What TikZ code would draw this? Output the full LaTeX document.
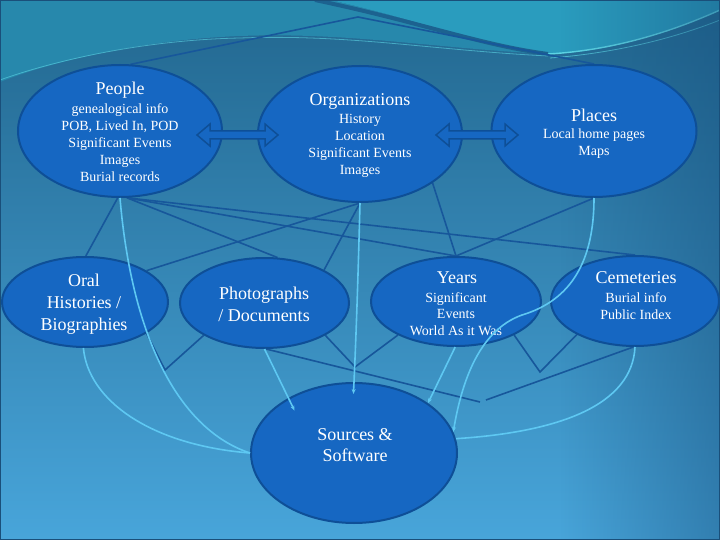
\documentclass[tikz,border=0pt]{standalone}
\usepackage{fontspec}
\setmainfont{Liberation Serif}
\usetikzlibrary{arrows.meta,fadings,shapes.geometric}
\definecolor{ellfill}{HTML}{1667C2}
\definecolor{ellline}{HTML}{0E4F97}
\definecolor{conn}{HTML}{17579B}
\definecolor{cy}{HTML}{5EC8F2}
\definecolor{bgtop}{HTML}{22678F}
\definecolor{bgmid}{HTML}{3382B2}
\definecolor{bgbot}{HTML}{48A5DA}
\definecolor{tealL}{HTML}{2788AC}
\definecolor{tealR}{HTML}{2A9CBE}
\definecolor{streak}{HTML}{1C6290}
\definecolor{bright}{HTML}{5CD4E4}
\definecolor{darkR}{HTML}{17507E}
\definecolor{frame}{HTML}{1A4F7A}
\tikzfading[name=fadeR, left color=transparent!100, right color=transparent!55]
\pgfdeclarelayer{back}
\pgfdeclarelayer{lines}
\pgfdeclarelayer{front}
\pgfsetlayers{back,lines,main,front}
\begin{document}
\begin{tikzpicture}[x=1pt,y=-1pt,
  ell/.style={ellipse, draw=ellline, fill=ellfill, line width=2pt, inner sep=0pt},
  ttl/.style={text=white, font=\fontsize{18}{22}\selectfont, align=center, inner sep=0pt},
  sub/.style={text=white, font=\fontsize{14}{17}\selectfont, align=center, inner sep=0pt},
  darkline/.style={draw=conn, line width=1.6pt},
  cyline/.style={draw=cy, line width=1.6pt},
  cyarrow/.style={cyline, -{Stealth[length=5pt,width=4pt]}},
  blockarrow/.style={fill=ellfill, draw=ellline, line width=1.5pt, line join=miter}]
\useasboundingbox (0,0) rectangle (720,540);
% background
\begin{pgfonlayer}{back}
\shade[top color=bgtop, middle color=bgmid, bottom color=bgbot] (0,0) rectangle (720,540);
\fill[tealL] (0,0) -- (330,0) .. controls (420,20) and (480,45) .. (548,54)
  .. controls (430,48) and (350,32) .. (240,36) .. controls (140,40) and (50,62) .. (0,82) -- cycle;
\fill[tealR] (330,0) -- (720,0) -- (720,10) .. controls (660,35) and (610,52) .. (548,54)
  .. controls (480,45) and (420,20) .. (330,0) -- cycle;
\draw[streak, line width=4pt] (315,0) .. controls (420,22) and (480,45) .. (548,54);
\draw[bright, line width=1.4pt] (548,54) .. controls (620,50) and (680,28) .. (720,10);
\draw[bright, line width=0.8pt, opacity=0.7] (550,58) .. controls (630,52) and (690,32) .. (720,20);
\draw[bright, line width=0.8pt, opacity=0.6] (0,80) .. controls (50,62) and (140,40) .. (240,38)
  .. controls (350,34) and (430,50) .. (548,56);
\fill[darkR, path fading=fadeR] (560,0) rectangle (720,540);
\draw[frame, line width=2pt] (0,0) rectangle (720,540);
\end{pgfonlayer}
% ellipses
\node[ell, minimum width=204pt, minimum height=132pt] (people) at (120,131) {};
\node[ell, minimum width=204pt, minimum height=136pt] (org) at (360,134) {};
\node[ell, minimum width=205pt, minimum height=132pt] (places) at (594,131) {};
\node[ell, minimum width=166pt, minimum height=90pt] (oral) at (85,302) {};
\node[ell, minimum width=169pt, minimum height=90pt] (photos) at (264.5,303) {};
\node[ell, minimum width=170pt, minimum height=89pt] (years) at (456,301.5) {};
\node[ell, minimum width=168pt, minimum height=90pt] (cem) at (635,301) {};
\node[ell, minimum width=206pt, minimum height=140pt] (src) at (354,453) {};
% texts
\node[ttl] (peopleT) at (120,90) {People};
\node[sub] (peopleS) at (120,143) {genealogical info\\POB, Lived In, POD\\Significant Events\\Images\\Burial records};
\node[ttl] (orgT) at (360,101) {Organizations};
\node[sub] (orgS) at (360,146) {History\\Location\\Significant Events\\Images};
\node[ttl] (placesT) at (594,115) {Places};
\node[sub] (placesS) at (594,144) {Local home pages\\Maps};
\node[ttl] (oralT) at (84,304) {Oral\\Histories /\\Biographies};
\node[ttl] (photosT) at (264,304) {Photographs\\/ Documents};
\node[ttl] (yearsT) at (457,278) {Years};
\node[sub, font=\fontsize{14}{16.5}\selectfont] (yearsS) at (456,314) {Significant\\Events\\World As it Was};
\node[ttl] (cemT) at (636,278) {Cemeteries};
\node[sub] (cemS) at (636,306) {Burial info\\Public Index};
\node[ttl, font=\fontsize{18}{21}\selectfont] (srcT) at (355,445) {Sources \&\\Software};
% coordinates
\coordinate (t1) at (358,17);
\coordinate (v1) at (165,370);
\coordinate (v2) at (355,367);
\coordinate (v3a) at (480,402);
\coordinate (v3b) at (486,400);
\coordinate (v4) at (540,372);
\coordinate (w1) at (522,315);
% dark connectors
\begin{pgfonlayer}{lines}
\draw[darkline] (people.81) -- (t1) -- (places.90);
\draw[darkline] (people.-92) -- (oral.89);
\draw[darkline] (people.-84) -- (photos.74);
\draw[darkline] (people.-84) -- (years.90);
\draw[darkline] (people.-84) -- (cem.90);
\draw[darkline] (oral.27) -- (org.-90);
\draw[darkline] (photos.29) -- (org.-90);
\draw[darkline] (org.-34) -- (years.90);
\draw[darkline] (places.-90) -- (years.90);
\draw[darkline] (oral.-27) -- (v1) -- (photos.-152);
\draw[darkline] (photos.-28) -- (v2) -- (years.-150);
\draw[darkline] (photos.-88) -- (v3a);
\draw[darkline] (v3b) -- (cem.-92);
\draw[darkline] (years.-30) -- (v4) -- (cem.-150);
\end{pgfonlayer}
% front: cyan connectors and block arrows
\begin{pgfonlayer}{front}
\draw[cyline] (people.-90) .. controls (132,340) and (180,430) .. (src.180);
\draw[cyline] (oral.-92) .. controls (88,400) and (150,445) .. (src.180);
\draw[cyarrow, shorten >=-14pt] (photos.-90) -- (src.140);
\draw[cyarrow, shorten >=-12pt] (org.-90) .. controls (358,280) and (356,340) .. (src.90);
\draw[cyarrow] (years.-91) -- (src.34);
\draw[cyarrow] (places.-90) .. controls (594,260) and (572,300) .. (w1)
  .. controls (480,330) and (462,380) .. (src.12);
\draw[cyline] (cem.-90) .. controls (632,405) and (560,432) .. (src.8);
\draw[blockarrow] (197,135) -- (210,124) -- (210,131) -- (265,131) -- (265,124) -- (278,135)
  -- (265,146) -- (265,139) -- (210,139) -- (210,146) -- cycle;
\draw[blockarrow] (436,135) -- (449,124) -- (449,131) -- (505,131) -- (505,124) -- (518,135)
  -- (505,146) -- (505,139) -- (449,139) -- (449,146) -- cycle;
\end{pgfonlayer}
\end{tikzpicture}
\end{document}
